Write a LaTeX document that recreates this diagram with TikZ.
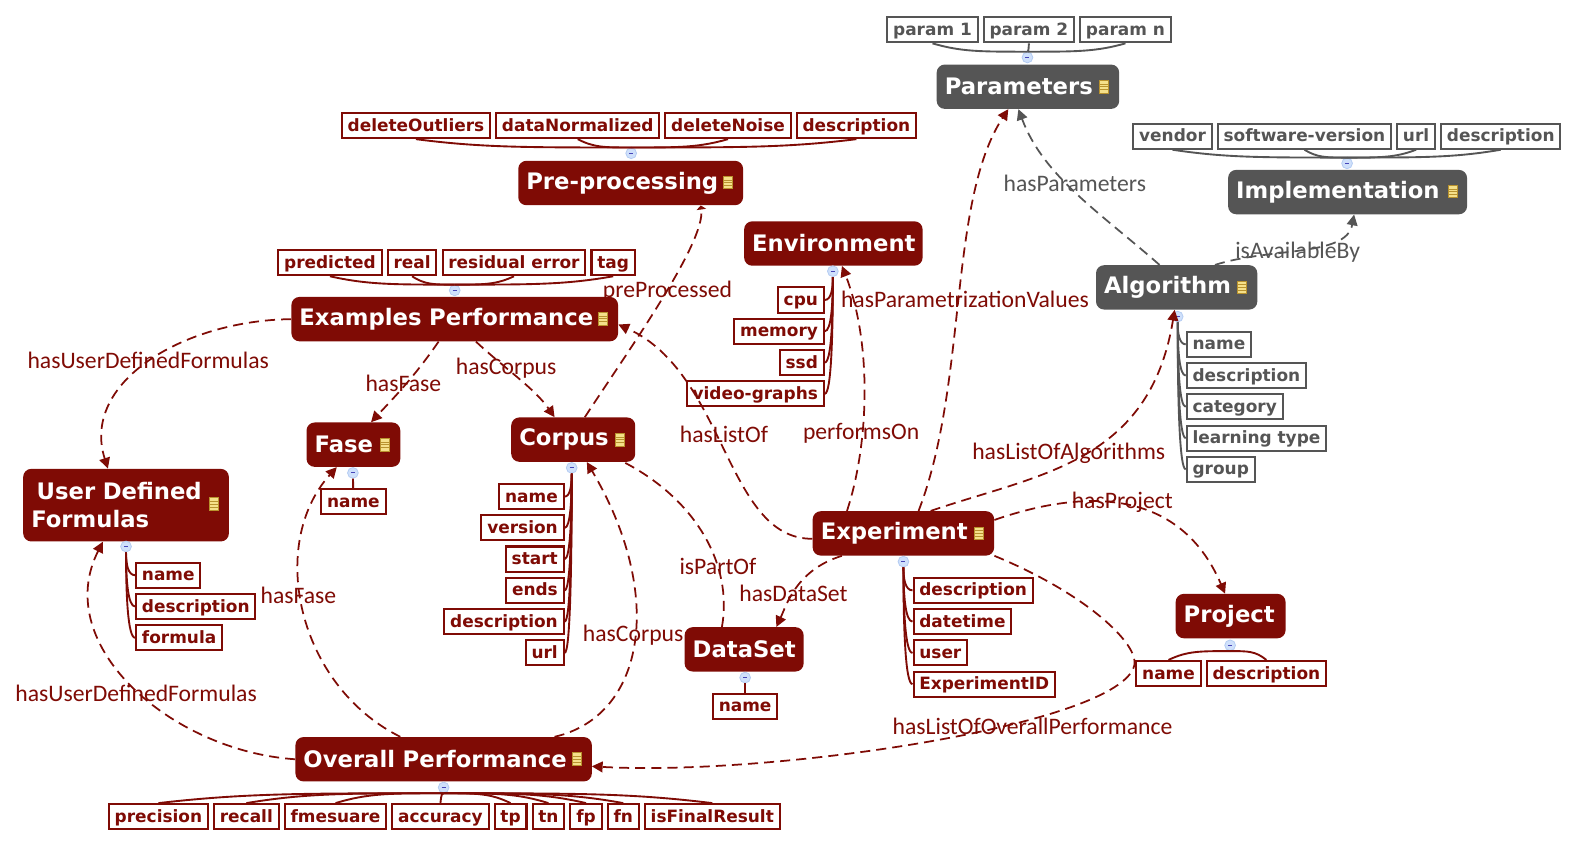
\documentclass[tikz,border=0pt]{standalone}
\usepackage{fontspec}
\setmainfont{DejaVu Sans}
\newfontfamily\notefont{Carlito}
\usetikzlibrary{positioning,arrows.meta,calc}
\definecolor{redcol}{HTML}{7F0B05}
\definecolor{graycol}{HTML}{555555}
\definecolor{dotfill}{HTML}{CFE0FB}
\definecolor{dotline}{HTML}{B4CCF2}
\definecolor{stickyfill}{HTML}{F5E08A}
\definecolor{stickyline}{HTML}{B8922E}

% fans from a minus dot to its attribute boxes
\newcommand{\fanrow}[5]{\foreach \kid in {#5} {
  \draw[#1] (#2.#3) .. controls ($(#2.#3)!.5!(#2.#3 -| \kid.#4)$) and ($(#2.#3 -| \kid.#4)!.3!(#2.#3)$) .. (\kid.#4);}}
\newcommand{\fanside}[4]{\foreach \kid in {#4} {
  \draw[#1] (#2.south) .. controls ($(#2.south)!.5!(#2.south |- \kid.#3)$) and ($(#2.south |- \kid.#3)!.2!(\kid.#3)$) .. (\kid.#3);}}

\begin{document}
\begin{tikzpicture}[
  x=0.75pt, y=-0.75pt,
  concept/.style={rounded corners=6pt, text=white, align=left, inner xsep=6pt, inner ysep=0pt,
    minimum height=33pt, font=\bfseries\fontsize{16.9}{20.5}\selectfont},
  conceptred/.style={concept, fill=redcol},
  conceptgray/.style={concept, fill=graycol},
  attr/.style={draw, fill=white, line width=1.5pt, inner xsep=4.35pt, inner ysep=0pt,
    text height=10.2pt, text depth=2pt, minimum height=18.75pt, font=\bfseries\fontsize{12.6}{15}\selectfont},
  attrred/.style={attr, draw=redcol, text=redcol},
  attrgray/.style={attr, draw=graycol, text=graycol},
  dot/.style={circle, draw=dotline, fill=dotfill, line width=.6pt, minimum size=8pt, inner sep=0pt,
    path picture={\draw[blue!45!gray, line width=.7pt] ([xshift=-1.5pt]path picture bounding box.center) -- ([xshift=1.5pt]path picture bounding box.center);}},
  sticky/.style={draw=stickyline, fill=stickyfill, line width=.7pt, minimum width=7pt, minimum height=9.5pt, inner sep=0pt,
    path picture={\draw[stickyline, line width=.4pt]
      ([yshift=2pt]path picture bounding box.west) -- ([yshift=2pt]path picture bounding box.east)
      ([yshift=0pt]path picture bounding box.west) -- ([yshift=0pt]path picture bounding box.east)
      ([yshift=-2pt]path picture bounding box.west) -- ([yshift=-2pt]path picture bounding box.east);}},
  redfan/.style={draw=redcol, line width=1.4pt},
  grayfan/.style={draw=graycol, line width=1.4pt},
  arr/.style={-{Triangle[length=8pt,width=8pt]}, line width=1.3pt, dash pattern=on 7.5pt off 4.5pt, draw=redcol},
  arrgray/.style={arr, draw=graycol},
  note/.style={font=\notefont\fontsize{17.6}{20}\selectfont, text=redcol},
  notegray/.style={note, text=graycol}
]
\useasboundingbox (0,0) rectangle (1568,840);

% concepts
\node[conceptgray, text width=123.75pt] (parameters) at (1019.5,86) {Parameters};
\node[conceptgray, text width=165.75pt] (implementation) at (1336.5,190.5) {Implementation};
\node[conceptgray, text width=108pt] (algorithm) at (1167,285) {Algorithm};
\node[conceptred, text width=155.25pt] (preprocessing) at (625.5,181.5) {Pre-processing};
\node[conceptred, text width=120.75pt] (environment) at (826.5,241.5) {Environment};
\node[conceptred, text width=231pt] (examples) at (451,316.5) {Examples Performance};
\node[conceptred, text width=57.75pt] (fase) at (350.5,441) {Fase};
\node[conceptred, text width=80.25pt] (corpus) at (568.5,436) {Corpus};
\node[conceptred, text width=141pt, minimum height=54pt] (formulas) at (125,501) {\hspace*{4pt}User Defined\\Formulas};
\node[conceptred, text width=123pt] (experiment) at (896,529) {Experiment};
\node[conceptred, text width=69.75pt] (project) at (1220.5,611) {Project};
\node[conceptred, text width=76.5pt] (dataset) at (738,644) {DataSet};
\node[conceptred, text width=208.5pt] (overall) at (440,753) {Overall Performance};

% note icons
\node[sticky] (parametersnote) at (1095,86) {};
\node[sticky] (implementationnote) at (1441,190) {};
\node[sticky] (algorithmnote) at (1232,285) {};
\node[sticky] (preprocessingnote) at (722,181) {};
\node[sticky] (examplesnote) at (598,316) {};
\node[sticky] (fasenote) at (382,441) {};
\node[sticky] (corpusnote) at (615,436) {};
\node[sticky] (formulasnote) at (212,500) {};
\node[sticky] (experimentnote) at (971,529) {};
\node[sticky] (overallnote) at (572,753) {};

% minus dots
\node[dot] (parametersdot) at (1019,57) {};
\node[dot] (implementationdot) at (1336,162) {};
\node[dot] (algorithmdot) at (1168,314) {};
\node[dot] (preprocessingdot) at (626,152) {};
\node[dot] (environmentdot) at (826,269) {};
\node[dot] (examplesdot) at (451,288) {};
\node[dot] (fasedot) at (350,469) {};
\node[dot] (corpusdot) at (567,464) {};
\node[dot] (formulasdot) at (125,542) {};
\node[dot] (experimentdot) at (896,557) {};
\node[dot] (projectdot) at (1220,640) {};
\node[dot] (datasetdot) at (739,672) {};
\node[dot] (overalldot) at (440,781) {};

% attribute rows
\node[attrgray, anchor=west] (paramone) at (879,29.5) {param 1};
\node[attrgray, right=3pt of paramone] (paramtwo) {param 2};
\node[attrgray, right=3pt of paramtwo] (paramn) {param n};

\node[attrgray, anchor=west] (vendor) at (1123,135) {vendor};
\node[attrgray, right=3pt of vendor] (softversion) {software-version};
\node[attrgray, right=3pt of softversion] (implurl) {url};
\node[attrgray, right=3pt of implurl] (impldesc) {description};

\node[attrred, anchor=west] (outliers) at (338,124.5) {deleteOutliers};
\node[attrred, right=3pt of outliers] (normalized) {dataNormalized};
\node[attrred, right=3pt of normalized] (noise) {deleteNoise};
\node[attrred, right=3pt of noise] (predesc) {description};

\node[attrred, anchor=west] (predicted) at (275,260.5) {predicted};
\node[attrred, right=3pt of predicted] (real) {real};
\node[attrred, right=3pt of real] (residual) {residual error};
\node[attrred, right=3pt of residual] (tag) {tag};

\node[attrred, anchor=west] (precision) at (107,810) {precision};
\node[attrred, right=3pt of precision] (recall) {recall};
\node[attrred, right=3pt of recall] (fmeasure) {fmesuare};
\node[attrred, right=3pt of fmeasure] (accuracy) {accuracy};
\node[attrred, right=3pt of accuracy] (tp) {tp};
\node[attrred, right=3pt of tp] (tn) {tn};
\node[attrred, right=3pt of tn] (fp) {fp};
\node[attrred, right=3pt of fp] (fn) {fn};
\node[attrred, right=3pt of fn] (finalresult) {isFinalResult};

\node[attrred, anchor=west] (projname) at (1126,668) {name};
\node[attrred, right=3pt of projname] (projdesc) {description};

% attribute stacks
\node[attrgray, anchor=west] (algoname) at (1176,341.5) {name};
\node[attrgray, below=3pt of algoname.south west, anchor=north west] (algodesc) {description};
\node[attrgray, below=3pt of algodesc.south west, anchor=north west] (algocat) {category};
\node[attrgray, below=3pt of algocat.south west, anchor=north west] (algotype) {learning type};
\node[attrgray, below=3pt of algotype.south west, anchor=north west] (algogroup) {group};

\node[attrred, anchor=east] (cpu) at (818,297.5) {cpu};
\node[attrred, below=3pt of cpu.south east, anchor=north east] (memory) {memory};
\node[attrred, below=3pt of memory.south east, anchor=north east] (ssd) {ssd};
\node[attrred, below=3pt of ssd.south east, anchor=north east] (videographs) {video-graphs};

\node[attrred, anchor=east] (corpname) at (560,492.5) {name};
\node[attrred, below=3pt of corpname.south east, anchor=north east] (corpversion) {version};
\node[attrred, below=3pt of corpversion.south east, anchor=north east] (corpstart) {start};
\node[attrred, below=3pt of corpstart.south east, anchor=north east] (corpends) {ends};
\node[attrred, below=3pt of corpends.south east, anchor=north east] (corpdesc) {description};
\node[attrred, below=3pt of corpdesc.south east, anchor=north east] (corpurl) {url};

\node[attrred, anchor=west] (formname) at (134,570.5) {name};
\node[attrred, below=3pt of formname.south west, anchor=north west] (formdesc) {description};
\node[attrred, below=3pt of formdesc.south west, anchor=north west] (formformula) {formula};

\node[attrred, anchor=west] (expdesc) at (905,585.5) {description};
\node[attrred, below=3pt of expdesc.south west, anchor=north west] (expdate) {datetime};
\node[attrred, below=3pt of expdate.south west, anchor=north west] (expuser) {user};
\node[attrred, below=3pt of expuser.south west, anchor=north west] (expid) {ExperimentID};

\node[attrred] (fasename) at (350.5,497.5) {name};
\node[attrred] (dataname) at (739,700.5) {name};

% fans
\fanrow{grayfan}{parametersdot}{north}{south}{paramone,paramtwo,paramn}
\fanrow{grayfan}{implementationdot}{north}{south}{vendor,softversion,implurl,impldesc}
\fanrow{redfan}{preprocessingdot}{north}{south}{outliers,normalized,noise,predesc}
\fanrow{redfan}{examplesdot}{north}{south}{predicted,real,residual,tag}
\fanrow{redfan}{overalldot}{south}{north}{precision,recall,fmeasure,accuracy,tp,tn,fp,fn,finalresult}
\fanrow{redfan}{projectdot}{south}{north}{projname,projdesc}
\fanside{grayfan}{algorithmdot}{west}{algoname,algodesc,algocat,algotype,algogroup}
\fanside{redfan}{environmentdot}{east}{cpu,memory,ssd,videographs}
\fanside{redfan}{corpusdot}{east}{corpname,corpversion,corpstart,corpends,corpdesc,corpurl}
\fanside{redfan}{formulasdot}{west}{formname,formdesc,formformula}
\fanside{redfan}{experimentdot}{west}{expdesc,expdate,expuser,expid}
\draw[redfan] (fasedot) -- (fasename);
\draw[redfan] (datasetdot) -- (dataname);

% relations
\draw[arr, -{Triangle[length=3pt,width=7pt]}] (580,0 |- corpus.north) .. controls (625,345) and (700,240) .. (695,0 |- preprocessing.south) node[note] at (662,289) {preProcessed};
\draw[arr] (examples.west) .. controls (180,318) and (80,380) .. (107,0 |- formulas.north) node[note] at (147,357) {hasUserDefinedFormulas};
\draw[arr] (435,0 |- examples.south) .. controls (410,375) and (390,395) .. (368,0 |- fase.north) node[note] at (400,380) {hasFase};
\draw[arr] (472,0 |- examples.south) .. controls (500,365) and (530,385) .. (550,0 |- corpus.north) node[note] at (502,365) {hasCorpus};
\draw[arr] ([yshift=-4pt]experiment.west) .. controls (720,535) and (720,370) .. ([yshift=-4pt]examples.east) node[note] at (718,431) {hasListOf};
\draw[arr] (840,0 |- experiment.north) .. controls (862,440) and (865,340) .. (835,0 |- environment.south) node[note] at (854,430) {performsOn};
\draw[arr] (911,0 |- experiment.north) .. controls (960,380) and (940,200) .. (1000,0 |- parameters.south) node[note] at (957,297) {hasParametrizationValues};
\draw[arr] (923,0 |- experiment.north) .. controls (1030,470) and (1140,460) .. (1165,0 |- algorithm.south) node[note] at (1060,450) {hasListOfAlgorithms};
\draw[arrgray] (1150,0 |- algorithm.north) .. controls (1090,210) and (1035,175) .. (1010,0 |- parameters.south) node[notegray] at (1066,182) {hasParameters};
\draw[arrgray] (1205,0 |- algorithm.north) .. controls (1260,245) and (1335,255) .. (1343,0 |- implementation.south) node[notegray] at (1287,250) {isAvailableBy};
\draw[arr] ([yshift=10pt]experiment.east) .. controls (1060,490) and (1166,475) .. (1215,0 |- project.north) node[note] at (1113,498) {hasProject};
\draw[arr] (experiment.south east) .. controls (1080,590) and (1130,640) .. (1125,660) .. controls (1110,720) and (760,770) .. (587,760) node[note] at (1024,720) {hasListOfOverallPerformance};
\draw[arr] (835,0 |- experiment.south) .. controls (790,565) and (780,600) .. (770,0 |- dataset.north) node[note] at (787,588) {hasDataSet};
\draw[arr, -] (716,0 |- dataset.north) .. controls (727,560) and (690,495) .. (618,458) node[note] at (712,562) {isPartOf};
\draw[arr] (550,0 |- overall.north) .. controls (640,710) and (660,590) .. (582,0 |- corpus.south) node[note] at (628,630) {hasCorpus};
\draw[arr] (397,0 |- overall.north) .. controls (295,680) and (265,540) .. (334,0 |- fase.south) node[note] at (296,590) {hasFase};
\draw[arr] (overall.west) .. controls (170,745) and (50,640) .. (102,0 |- formulas.south) node[note] at (135,688) {hasUserDefinedFormulas};

\end{tikzpicture}
\end{document}
